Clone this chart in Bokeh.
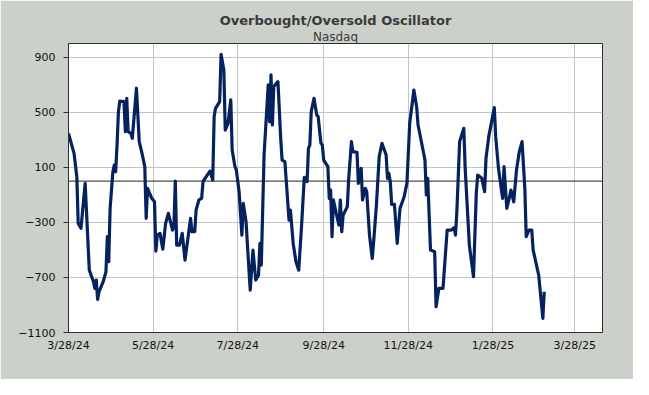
import pandas as pd
from bokeh.plotting import figure
from bokeh.models import Span, Title, FixedTicker, Range1d, ColumnDataSource
from bokeh.embed import file_html
from bokeh.resources import INLINE

start_date = "2024-03-28"
end_date = "2025-04-17"
day_offset = [0, 4, 6, 7, 9, 12, 15, 18, 19, 20, 21, 22, 25, 27, 28, 29, 30, 32, 33, 34,
              35, 36, 37, 40, 41, 42, 43, 45, 46, 49, 51, 53, 55, 56, 57, 60, 62, 63, 64, 66,
              68, 70, 72, 75, 76, 77, 78, 80, 82, 84, 88, 89, 91, 92, 94, 96, 97, 100, 102, 104,
              105, 106, 109, 110, 112, 113, 115, 117, 118, 120, 121, 123, 125, 126, 128, 131, 133, 135, 137, 138,
              139, 141, 144, 145, 146, 147, 148, 151, 153, 154, 156, 159, 160, 162, 164, 166, 168, 170, 172, 173,
              174, 175, 177, 179, 180, 182, 183, 184, 187, 188, 189, 190, 191, 193, 195, 196, 197, 198, 201, 202,
              204, 205, 208, 209, 211, 212, 214, 215, 217, 219, 220, 222, 224, 226, 229, 230, 231, 232, 233, 235,
              237, 239, 242, 244, 246, 248, 249, 251, 252, 253, 257, 258, 259, 261, 264, 265, 267, 270, 273, 276,
              278, 279, 280, 282, 285, 286, 289, 292, 294, 295, 298, 300, 301, 303, 306, 307, 308, 310, 312, 313,
              314, 316, 318, 319, 321, 323, 325, 327, 329, 330, 332, 334, 335, 339, 342, 343]
oscillator = [347, 202, 32, -307, -343, -16, -647, -731, -780, -719, -860, -804, -731, -659, -404, -586, -198, 68, 117, 68,
              262, 505, 582, 578, 359, 602, 359, 347, 311, 675, 287, 202, 105, -270, -53, -125, -150, -508, -392, -380,
              -494, -307, -234, -356, -331, 1, -465, -465, -380, -574, -271, -368, -368, -210, -137, -125, -4, 44, 73, 8,
              468, 529, 578, 922, 808, 371, 420, 590, 226, 105, 81, -77, -392, -162, -295, -792, -501, -719, -683, -453,
              -610, 190, 699, 432, 772, 408, 687, 723, 311, 153, 141, -283, -210, -453, -586, -647, -331, 27, -4, 238,
              262, 505, 602, 481, 469, 275, 262, 153, 105, -125, -65, -404, -137, -234, -319, -137, -368, -247, -186, 15,
              287, 214, 209, -16, 93, -137, -53, -77, -392, -562, -441, -174, 178, 275, 190, 20, 56, -4, -169, -169,
              -453, -198, -113, -16, 420, 578, 662, 541, 408, 359, 153, -101, 20, -501, -513, -913, -780, -780, -356, -356,
              -339, -392, -222, 287, 384, 93, -465, -695, -89, 44, 20, -77, 165, 323, 481, 534, 323, 93, -53, -125,
              105, -198, -113, -65, -150, 81, 214, 287, -53, -404, -356, -356, -501, -683, -998, -804]
tick_labels = ["3/28/24", "5/28/24", "7/28/24", "9/28/24", "11/28/24", "1/28/25", "3/28/25"]
y_ticks = [-1100, -700, -300, 100, 500, 900]
y_min, y_max = -1100, 1000
title_text = "Overbought/Oversold Oscillator"
subtitle_text = "Nasdaq"

dates = pd.Timestamp(start_date) + pd.to_timedelta(day_offset, unit="D")
src = ColumnDataSource(dict(date=dates, value=oscillator))

p = figure(width=633, height=379, output_backend="svg", toolbar_location=None,
           x_axis_type="datetime", title=None,
           x_range=Range1d(pd.Timestamp(start_date), pd.Timestamp(end_date)),
           y_range=Range1d(y_min, y_max),
           min_border_left=68, min_border_right=31, min_border_top=43, min_border_bottom=47)

bg = "#cbd0c9"
p.border_fill_color = bg
p.background_fill_color = "white"
p.outline_line_color = "#2e2e2e"
p.outline_line_width = 1

tick_ms = [pd.to_datetime(t, format="%m/%d/%y").value / 1e6 for t in tick_labels]
p.xaxis.ticker = FixedTicker(ticks=tick_ms)
p.xaxis.major_label_overrides = {ms: lab for ms, lab in zip(tick_ms, tick_labels)}
p.yaxis.ticker = FixedTicker(ticks=y_ticks)

for ax in (p.xaxis[0], p.yaxis[0]):
    ax.axis_line_color = "#2e2e2e"
    ax.major_label_text_font = "DejaVu Sans"
    ax.major_label_text_font_size = "11px"
    ax.major_label_text_color = "#111111"
    ax.minor_tick_line_color = None
    ax.major_tick_line_color = "#2e2e2e"

p.xaxis.major_tick_out = 0
p.xaxis.major_tick_in = 0
p.xaxis.major_label_standoff = 6
p.yaxis.major_tick_out = 5
p.yaxis.major_tick_in = 0
p.yaxis.major_label_standoff = 8

p.xgrid.grid_line_color = "#c4c4c4"
p.ygrid.grid_line_color = "#c4c4c4"

p.add_layout(Span(location=0, dimension="width", line_color="#222222", line_width=1))

p.line(x="date", y="value", source=src, line_color="#06225e", line_width=3.2, line_join="round")

p.add_layout(Title(text=subtitle_text, align="center", text_font="DejaVu Sans",
                   text_font_size="12px", text_font_style="normal", text_color="#3a3a3a",
                   standoff=0, offset=-3), "above")
p.add_layout(Title(text=title_text, align="center", text_font="DejaVu Sans",
                   text_font_size="13px", text_font_style="bold", text_color="#3a3a3a",
                   standoff=0, offset=-3), "above")

html = file_html(p, INLINE)
html = html.replace("<body>", '<body style="background-color: %s;">' % bg, 1)
open("out.html", "w").write(html)
